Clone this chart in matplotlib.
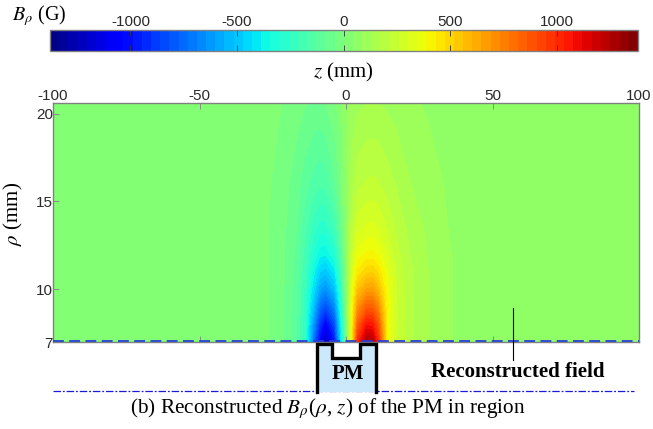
import numpy as np
import matplotlib

matplotlib.use("Agg")
import matplotlib.pyplot as plt

W, H = 653, 429

# field, in gauss (rows = rho, columns = z)
z_mm = [-100, -45, -35, -28, -22, -17, -14, -11, -9, -7, -4, -2, 0, 2, 4, 7, 9, 11, 14, 17, 22, 28, 35, 45, 100]
rho_mm = [7, 8, 9, 10, 11, 12, 13.5, 16, 20.6]
field_g = [
    [35, 30, 25, 10, -30, -120, -250, -750, -1050, -1280, -1000, -500, -50, 400, 1000, 1280, 1250, 1000, 400, 270, 180, 130, 90, 60, 50],
    [35, 30, 25, 10, -30, -120, -250, -640, -900, -1060, -850, -440, -30, 380, 840, 1060, 1050, 870, 400, 270, 180, 130, 90, 60, 50],
    [35, 30, 25, 10, -30, -115, -240, -530, -740, -840, -680, -360, -10, 360, 690, 840, 840, 720, 395, 265, 180, 130, 90, 60, 50],
    [35, 30, 25, 10, -30, -110, -230, -440, -590, -650, -530, -290, 10, 330, 550, 650, 660, 570, 380, 265, 180, 130, 90, 60, 50],
    [35, 30, 25, 10, -30, -100, -210, -370, -470, -500, -410, -230, 30, 290, 440, 500, 510, 460, 350, 255, 180, 130, 90, 60, 50],
    [35, 30, 25, 10, -30, -95, -190, -310, -370, -385, -310, -170, 40, 250, 360, 395, 400, 375, 305, 235, 170, 125, 90, 60, 50],
    [35, 30, 25, 10, -25, -85, -160, -240, -275, -280, -210, -105, 55, 205, 285, 310, 315, 300, 255, 210, 155, 120, 85, 60, 50],
    [35, 30, 25, 12, -20, -65, -110, -150, -165, -155, -100, -30, 70, 155, 200, 220, 225, 220, 195, 170, 130, 105, 80, 60, 50],
    [35, 32, 28, 20, 0, -25, -40, -50, -50, -40, -10, 25, 70, 100, 120, 128, 130, 130, 120, 110, 95, 80, 70, 55, 50],
]
z_ticks = [-100, -50, 0, 50, 100]
rho_ticks = [7, 10, 15, 20]
cbar_ticks = [-1000, -500, 0, 500, 1000]
cbar_limit = 1377

plt.rcParams["font.family"] = ["Liberation Sans", "DejaVu Sans"]
plt.rcParams["mathtext.fontset"] = "stix"
plt.rcParams["axes.unicode_minus"] = False
SERIF = "Liberation Serif"
FRAME = "#808080"
TICK_TEXT = "#2a2a2a"


def axes_px(left, top, right, bottom):
    return [left / W, 1 - bottom / H, (right - left) / W, (bottom - top) / H]


def put(x, y, s, **kw):
    fig.text(x / W, 1 - y / H, s, va="center", **kw)


fig = plt.figure(figsize=(W / 100, H / 100), dpi=100)
ax = fig.add_axes(axes_px(53, 103, 639, 342))
cax = fig.add_axes(axes_px(50, 30, 637.5, 51))

levels = np.linspace(-cbar_limit, cbar_limit, 65)
cs = ax.contourf(z_mm, rho_mm, field_g, levels=levels, cmap="jet")

ax.set_xlim(-100, 100)
ax.set_ylim(7, 20.6)
ax.set_xticks(z_ticks)
ax.set_yticks(rho_ticks)
ax.xaxis.tick_top()
ax.tick_params(axis="both", direction="in", length=4, width=0.6, color=FRAME,
               labelsize=11, labelcolor=TICK_TEXT, pad=0, top=True, bottom=True)
for side in ax.spines.values():
    side.set_color(FRAME)
    side.set_linewidth(1)
ax.axhline(7.05, color="#2a3fd8", lw=1.3, ls=(0, (6, 3)), clip_on=False, zorder=5)

cb = fig.colorbar(cs, cax=cax, orientation="horizontal")
cb.set_ticks(cbar_ticks)
cax.set_xlim(-cbar_limit, cbar_limit)
cax.xaxis.set_ticks_position("top")
cax.tick_params(direction="in", length=4, width=0.6, color="#333333",
                labelsize=11, labelcolor=TICK_TEXT, pad=1, top=True, bottom=True)
cb.outline.set_edgecolor(FRAME)
cb.outline.set_linewidth(1)

# magnet outline and annotations sit below the plot, so work in figure pixels
over = fig.add_axes([0, 0, 1, 1], facecolor="none")
over.set_xlim(0, W)
over.set_ylim(H, 0)
over.axis("off")
pm_x = [317, 317, 332, 332, 360, 360, 375.5, 375.5]
pm_y = [392, 344, 344, 358, 358, 344, 344, 392]
over.fill(pm_x, pm_y, color="#cce8fb", lw=0, zorder=2)
over.plot(pm_x, pm_y, color="black", lw=2.4, solid_joinstyle="miter", zorder=3)
over.plot([53, 634], [391, 391], color="#1a1ad8", lw=0.9, ls=(0, (6, 1.5, 1.5, 1.5)), zorder=1)
over.plot([512.5, 512.5], [308, 360], color="black", lw=0.8)

put(12, 16, r"$B_{\rho}$ (G)", family=SERIF, fontsize=14.5)
put(343, 72, r"$z$ (mm)", family=SERIF, fontsize=15, ha="center")
put(13, 214, r"$\rho$ (mm)", family=SERIF, fontsize=15, ha="center", rotation=90)
put(348, 374, "PM", family=SERIF, fontsize=15, weight="bold", ha="center")
put(517.5, 372, "Reconstructed field", family=SERIF, fontsize=15, weight="bold", ha="center")
put(327.5, 409, r"(b) Reconstructed $B_{\rho}$($\rho$, $z$) of the PM in region", family=SERIF,
    fontsize=15.3, ha="center")

fig.savefig("out.png", dpi=100)
plt.close(fig)
